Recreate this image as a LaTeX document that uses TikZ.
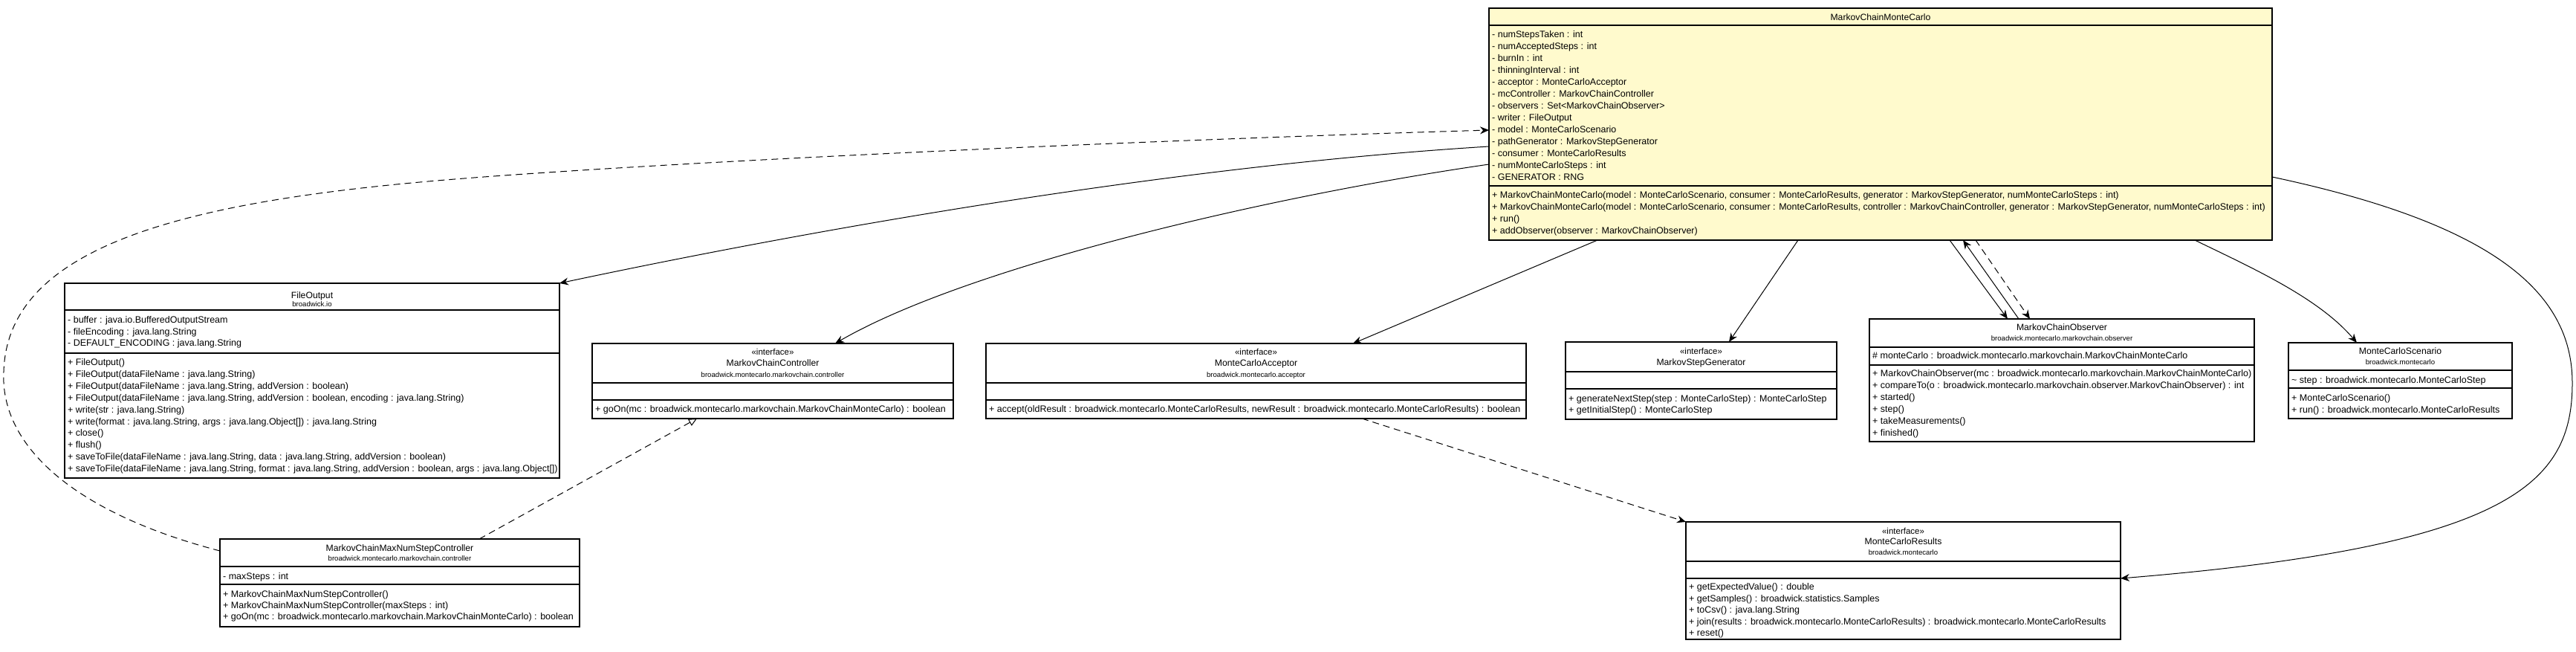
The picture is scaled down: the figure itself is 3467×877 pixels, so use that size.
\documentclass[tikz,border=0pt]{standalone}
\usepackage{fontspec}
\setmainfont{Liberation Sans}
\usetikzlibrary{arrows.meta,calc}
\definecolor{chiffon}{HTML}{FFFACD}
\tikzset{
  box/.style={draw=black, line width=1.2pt, inner sep=0pt, outer sep=0pt, anchor=north west},
  sepline/.style={line width=1.2pt},
  mem/.style={anchor=base west, inner sep=0pt, font=\fontsize{12.5}{15}\selectfont},
  ttl/.style={anchor=base, inner sep=0pt, font=\fontsize{12.2}{15}\selectfont},
  pkg/.style={anchor=base, inner sep=0pt, font=\fontsize{9.6}{12}\selectfont},
  ster/.style={anchor=base, inner sep=0pt, font=\fontsize{11.5}{14}\selectfont},
  assoc/.style={line width=1pt, -{Stealth[length=12pt,width=10pt,inset=4pt]}},
  depend/.style={assoc, dash pattern=on 9pt off 6pt},
  realize/.style={line width=1pt, dash pattern=on 9pt off 6pt, -{Triangle[open,length=11pt,width=10pt,fill=white]}},
}
\newcommand\umlbox[8]{%
  \node[box, fill=#8, minimum width={(#4-#2)*1pt}, minimum height={(#5-#3)*1pt}] (#1) at (#2,#3) {};
  \draw[sepline] (#1.west |- 0,#6) -- (#1.east |- 0,#6);
  \draw[sepline] (#1.west |- 0,#7) -- (#1.east |- 0,#7);
}
\newcommand\mems[5]{%
  \foreach \t [count=\i from 0] in {#5} {\node[mem] (#1\i) at ({#2},{#3+\i*#4}) {\t};}
}
\begin{document}
\begin{tikzpicture}[x=1pt, y=-1pt]
\fill[white] (0,0) rectangle (3467,877);
\useasboundingbox (0,0) rectangle (3467,877);

% ---------- MarkovChainMonteCarlo ----------
\umlbox{mcmc}{2004}{11}{3058}{323}{34}{250}{chiffon}
\node[ttl] (mcmc-t) at (mcmc.north |- 0,27.5) {MarkovChainMonteCarlo};
\mems{mcmc-a}{2008}{50.5}{16}{{- numStepsTaken : int},{- numAcceptedSteps : int},{- burnIn : int},{- thinningInterval : int},{- acceptor : MonteCarloAcceptor},{- mcController : MarkovChainController},{- observers : Set<MarkovChainObserver>},{- writer : FileOutput},{- model : MonteCarloScenario},{- pathGenerator : MarkovStepGenerator},{- consumer : MonteCarloResults},{- numMonteCarloSteps : int},{- GENERATOR : RNG}}
\mems{mcmc-m}{2008}{266.5}{16}{{+ MarkovChainMonteCarlo(model : MonteCarloScenario, consumer : MonteCarloResults, generator : MarkovStepGenerator, numMonteCarloSteps : int)},{+ MarkovChainMonteCarlo(model : MonteCarloScenario, consumer : MonteCarloResults, controller : MarkovChainController, generator : MarkovStepGenerator, numMonteCarloSteps : int)},{+ run()},{+ addObserver(observer : MarkovChainObserver)}}

% ---------- FileOutput ----------
\umlbox{fo}{87}{381}{753}{643}{417}{475}{white}
\node[ttl] (fo-t) at (fo.north |- 0,401) {FileOutput};
\node[pkg] (fo-p) at (fo.north |- 0,412) {broadwick.io};
\mems{fo-a}{91}{434.5}{15.5}{{- buffer : java.io.BufferedOutputStream},{- fileEncoding : java.lang.String},{- DEFAULT\_ENCODING : java.lang.String}}
\mems{fo-m}{91}{491.5}{15.9}{{+ FileOutput()},{+ FileOutput(dataFileName : java.lang.String)},{+ FileOutput(dataFileName : java.lang.String, addVersion : boolean)},{+ FileOutput(dataFileName : java.lang.String, addVersion : boolean, encoding : java.lang.String)},{+ write(str : java.lang.String)},{+ write(format : java.lang.String, args : java.lang.Object[]) : java.lang.String},{+ close()},{+ flush()},{+ saveToFile(dataFileName : java.lang.String, data : java.lang.String, addVersion : boolean)},{+ saveToFile(dataFileName : java.lang.String, format : java.lang.String, addVersion : boolean, args : java.lang.Object[])}}

% ---------- MarkovChainMaxNumStepController ----------
\umlbox{mcmnsc}{296}{725}{780}{843}{762}{786}{white}
\node[ttl] (mcmnsc-t) at (mcmnsc.north |- 0,741) {MarkovChainMaxNumStepController};
\node[pkg] (mcmnsc-p) at (mcmnsc.north |- 0,754.5) {broadwick.montecarlo.markovchain.controller};
\mems{mcmnsc-a}{300}{779.5}{15}{{- maxSteps : int}}
\mems{mcmnsc-m}{300}{803.8}{14.8}{{+ MarkovChainMaxNumStepController()},{+ MarkovChainMaxNumStepController(maxSteps : int)},{+ goOn(mc : broadwick.montecarlo.markovchain.MarkovChainMonteCarlo) : boolean}}

% ---------- MarkovChainController ----------
\umlbox{mcc}{797}{462}{1283}{563}{515}{538}{white}
\node[ster] (mcc-s) at (mcc.north |- 0,477.3) {«interface»};
\node[ttl] (mcc-t) at (mcc.north |- 0,492.5) {MarkovChainController};
\node[pkg] (mcc-p) at (mcc.north |- 0,507.2) {broadwick.montecarlo.markovchain.controller};
\mems{mcc-m}{801}{554.5}{15}{{+ goOn(mc : broadwick.montecarlo.markovchain.MarkovChainMonteCarlo) : boolean}}

% ---------- MonteCarloAcceptor ----------
\umlbox{mca}{1327}{462}{2054}{563}{515}{538}{white}
\node[ster] (mca-s) at (mca.north |- 0,477.3) {«interface»};
\node[ttl] (mca-t) at (mca.north |- 0,492.5) {MonteCarloAcceptor};
\node[pkg] (mca-p) at (mca.north |- 0,507.2) {broadwick.montecarlo.acceptor};
\mems{mca-m}{1331}{554.5}{15}{{+ accept(oldResult : broadwick.montecarlo.MonteCarloResults, newResult : broadwick.montecarlo.MonteCarloResults) : boolean}}

% ---------- MarkovStepGenerator ----------
\umlbox{msg}{2107}{460}{2472}{564}{500}{523}{white}
\node[ster] (msg-s) at (msg.north |- 0,476) {«interface»};
\node[ttl] (msg-t) at (msg.north |- 0,491.4) {MarkovStepGenerator};
\mems{msg-m}{2111}{540.5}{15.3}{{+ generateNextStep(step : MonteCarloStep) : MonteCarloStep},{+ getInitialStep() : MonteCarloStep}}

% ---------- MarkovChainObserver ----------
\umlbox{mco}{2516}{429}{3034}{594}{467}{491}{white}
\node[ttl] (mco-t) at (mco.north |- 0,444.4) {MarkovChainObserver};
\node[pkg] (mco-p) at (mco.north |- 0,458.6) {broadwick.montecarlo.markovchain.observer};
\mems{mco-a}{2520}{482.5}{16}{{\# monteCarlo : broadwick.montecarlo.markovchain.MarkovChainMonteCarlo}}
\mems{mco-m}{2520}{506.5}{16}{{+ MarkovChainObserver(mc : broadwick.montecarlo.markovchain.MarkovChainMonteCarlo)},{+ compareTo(o : broadwick.montecarlo.markovchain.observer.MarkovChainObserver) : int},{+ started()},{+ step()},{+ takeMeasurements()},{+ finished()}}

% ---------- MonteCarloScenario ----------
\umlbox{mcs}{3080}{461}{3381}{563}{498}{522}{white}
\node[ttl] (mcs-t) at (mcs.north |- 0,476.4) {MonteCarloScenario};
\node[pkg] (mcs-p) at (mcs.north |- 0,490.4) {broadwick.montecarlo};
\mems{mcs-a}{3084}{515}{16}{{\textasciitilde{} step : broadwick.montecarlo.MonteCarloStep}}
\mems{mcs-m}{3084}{539.5}{16}{{+ MonteCarloScenario()},{+ run() : broadwick.montecarlo.MonteCarloResults}}

% ---------- MonteCarloResults ----------
\umlbox{mcr}{2269}{702}{2854}{860}{755}{778}{white}
\node[ster] (mcr-s) at (mcr.north |- 0,718) {«interface»};
\node[ttl] (mcr-t) at (mcr.north |- 0,732.4) {MonteCarloResults};
\node[pkg] (mcr-p) at (mcr.north |- 0,746.6) {broadwick.montecarlo};
\mems{mcr-m}{2273}{793.5}{15.5}{{+ getExpectedValue() : double},{+ getSamples() : broadwick.statistics.Samples},{+ toCsv() : java.lang.String},{+ join(results : broadwick.montecarlo.MonteCarloResults) : broadwick.montecarlo.MonteCarloResults},{+ reset()}}

% ---------- connectors ----------
\draw[assoc] (mcmc.west |- 0,197) .. controls (1550,225) and (1050,318) .. (fo.north east);
\draw[assoc] (mcmc.west |- 0,221) .. controls (1700,265) and (1300,360) .. (1124,0 |- mcc.north);
\draw[assoc] (2150,0 |- mcmc.south) -- (1821,0 |- mca.north);
\draw[assoc] (2420,0 |- mcmc.south) -- (2327,0 |- msg.north);
\draw[assoc] (2624,0 |- mcmc.south) -- (2702,0 |- mco.north);
\draw[assoc] (2717,0 |- mco.north) -- (2642,0 |- mcmc.south);
\draw[depend] (2659,0 |- mcmc.south) -- (2732,0 |- mco.north);
\draw[assoc] (2954,0 |- mcmc.south) .. controls (3030,360) and (3120,400) .. (3172,0 |- mcs.north);
\draw[assoc] (mcmc.east |- 0,238) .. controls (3350,300) and (3462,390) .. (3462,515) .. controls (3462,650) and (3380,735) .. (mcr.east |- 0,778);
\draw[depend] (1833,0 |- mca.south) -- (mcr.north west);
\draw[realize] (645,0 |- mcmnsc.north) -- (938,0 |- mcc.south);
\draw[depend] (mcmnsc.west |- 0,741) .. controls (100,690) and (0,600) .. (5,500) .. controls (10,330) and (250,270) .. (612,241) .. controls (900,218) and (1500,190) .. (mcmc.west |- 0,175);
\end{tikzpicture}
\end{document}
